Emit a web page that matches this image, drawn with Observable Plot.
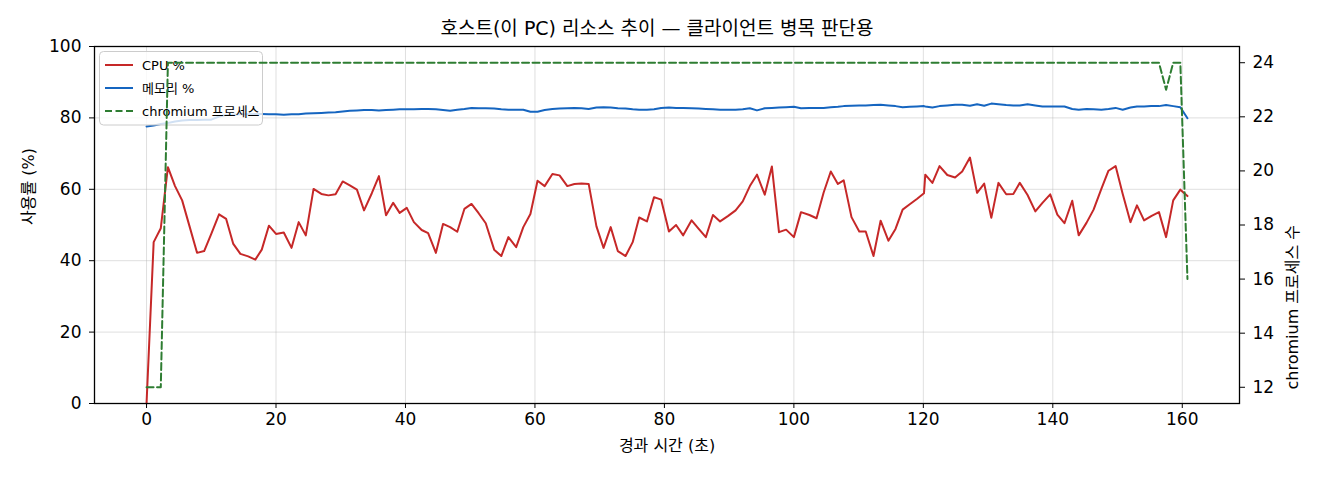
<!DOCTYPE html>
<html><head><meta charset="utf-8">
<script src="https://cdn.jsdelivr.net/npm/d3@7"></script>
<script src="https://cdn.jsdelivr.net/npm/@observablehq/plot@0.6"></script>
<style>
body{margin:0;background:#fff;}
#wrap{position:relative;width:1320px;height:480px;}
#title{position:absolute;left:0;width:1314px;top:18px;line-height:20px;text-align:center;font-size:19px;font-family:"DejaVu Sans","Noto Sans CJK KR",sans-serif;color:#000;}
#wrap svg{position:absolute;left:0;top:0;}
</style></head><body>
<div id="wrap"><div id="title">호스트(이 PC) 리소스 추이 — 클라이언트 병목 판단용</div></div>
<script>
// elapsed seconds of each sample
const t = [0.0,1.1,2.2,3.3,4.4,5.5,6.6,7.8,8.9,10.0,
11.2,12.3,13.4,14.5,15.7,16.8,17.8,18.9,20.0,21.2,
22.4,23.5,24.6,25.8,27.0,28.1,29.2,30.3,31.4,32.5,
33.6,34.8,35.9,37.0,38.1,39.1,40.2,41.3,42.5,43.5,
44.7,45.8,46.9,48.0,49.1,50.2,51.3,52.4,53.7,54.8,
55.9,57.1,58.2,59.3,60.4,61.5,62.7,63.8,65.0,66.1,
67.2,68.3,69.5,70.6,71.7,72.8,74.0,75.1,76.1,77.3,
78.4,79.5,80.7,81.8,82.9,84.2,85.3,86.4,87.5,88.6,
89.8,91.0,92.1,93.2,94.3,95.5,96.6,97.7,98.8,100.0,
101.1,102.4,103.5,104.6,105.7,106.8,107.7,108.9,110.1,111.1,
112.3,113.4,114.6,115.7,116.8,117.9,119.0,120.1,120.3,121.4,
122.5,123.7,124.9,126.0,127.2,128.3,129.4,130.5,131.6,132.8,
133.9,134.9,136.1,137.3,138.4,139.6,140.7,141.8,143.0,144.0,
145.2,146.3,147.5,148.6,149.7,150.8,152.0,153.0,154.1,155.2,
156.4,157.5,158.6,159.7,160.8];

const cpu = [0.0,45.2,49.1,66.2,60.9,56.9,49.9,42.2,42.7,47.5,
53.0,51.7,44.7,41.9,41.2,40.3,43.1,49.8,47.5,47.9,
43.6,50.8,47.1,60.1,58.7,58.3,58.6,62.2,61.1,59.9,
54.1,58.9,63.7,52.7,56.2,53.4,54.8,50.8,48.6,47.7,
42.2,50.3,49.4,48.1,54.5,55.9,53.3,50.5,43.1,41.3,
46.6,43.8,49.4,53.1,62.4,60.9,64.3,63.9,60.9,61.5,
61.6,61.5,49.6,43.6,49.4,42.7,41.3,45.2,52.1,51.0,
57.8,57.1,48.2,50.0,47.1,51.3,48.9,46.6,52.8,51.0,
52.5,54.1,56.6,60.9,64.1,58.5,66.4,48.0,48.7,46.6,
53.6,52.8,51.9,59.1,65.0,61.5,62.5,52.2,48.2,48.2,
41.3,51.2,45.6,48.9,54.3,55.8,57.3,58.9,64.1,61.8,
66.5,64.0,63.3,65.0,68.9,59.0,61.6,52.0,61.8,58.6,
58.7,61.8,58.4,53.8,56.2,58.6,52.9,50.5,56.8,47.1,
50.6,54.3,60.1,65.2,66.5,58.7,50.8,55.5,51.3,52.5,
53.6,46.6,56.9,59.9,58.1];

const mem = [77.6,77.9,78.3,78.6,79.0,79.3,79.4,79.4,79.5,79.5,
80.4,80.8,80.9,81.0,81.0,81.1,81.1,81.0,81.0,80.9,
81.0,81.0,81.2,81.3,81.4,81.5,81.6,81.8,82.0,82.1,
82.2,82.2,82.1,82.2,82.3,82.4,82.4,82.4,82.5,82.5,
82.4,82.2,82.0,82.3,82.5,82.8,82.7,82.7,82.6,82.4,
82.3,82.3,82.3,81.7,81.7,82.2,82.5,82.6,82.7,82.8,
82.7,82.5,82.9,83.0,82.9,82.7,82.6,82.4,82.3,82.3,
82.4,82.8,82.9,82.8,82.8,82.7,82.6,82.5,82.4,82.3,
82.3,82.3,82.4,82.7,82.1,82.7,82.8,82.9,83.0,83.1,
82.7,82.8,82.8,82.8,83.0,83.1,83.3,83.4,83.5,83.5,
83.6,83.7,83.5,83.3,83.0,83.1,83.2,83.3,83.2,82.9,
83.3,83.5,83.7,83.7,83.4,83.8,83.4,84.0,83.8,83.6,
83.5,83.5,83.8,83.5,83.2,83.2,83.2,83.2,82.5,82.3,
82.5,82.4,82.3,82.5,82.8,82.3,82.9,83.2,83.2,83.3,
83.3,83.6,83.3,83.0,79.9];

const chromium = [12,12,12,24,24,24,24,24,24,24,
24,24,24,24,24,24,24,24,24,24,
24,24,24,24,24,24,24,24,24,24,
24,24,24,24,24,24,24,24,24,24,
24,24,24,24,24,24,24,24,24,24,
24,24,24,24,24,24,24,24,24,24,
24,24,24,24,24,24,24,24,24,24,
24,24,24,24,24,24,24,24,24,24,
24,24,24,24,24,24,24,24,24,24,
24,24,24,24,24,24,24,24,24,24,
24,24,24,24,24,24,24,24,24,24,
24,24,24,24,24,24,24,24,24,24,
24,24,24,24,24,24,24,24,24,24,
24,24,24,24,24,24,24,24,24,24,
24,23,24,24,16];

const xTicks = [0,20,40,60,80,100,120,140,160];
const yTicks = [0,20,40,60,80,100];
const rightTicks = [12,14,16,18,20,22,24];
const seriesNames = ["CPU %","메모리 %","chromium 프로세스"];
const colors = ["#c62828","#1565c0","#2e7d32"];
const xLabel = "경과 시간 (초)";
const yLabel = "사용률 (%)";
const y2Label = "chromium 프로세스 수";

const xDomain = [-8.04, 168.84];
const y2Domain = [11.4, 24.6];
const toLeft = v => (v - y2Domain[0]) / (y2Domain[1] - y2Domain[0]) * 100;
const fromLeft = y => y2Domain[0] + y / 100 * (y2Domain[1] - y2Domain[0]);

const data = t.map((d, i) => ({t: d, cpu: cpu[i], mem: mem[i], chr: toLeft(chromium[i])}));

const FONT = '"DejaVu Sans","Noto Sans CJK KR",sans-serif';

// legend drawn between the left-axis lines and the right-axis line
function legendMark(index, scales, values, dims) {
  const g = d3.create("svg:g").attr("text-anchor", "start");
  const x0 = dims.marginLeft + 5.5, y0 = dims.marginTop + 5.5;
  g.append("rect").attr("x", x0).attr("y", y0).attr("width", 163).attr("height", 73.5)
    .attr("rx", 4).attr("fill", "#fff").attr("fill-opacity", 0.8)
    .attr("stroke", "#cccccc").attr("stroke-width", 1);
  seriesNames.forEach((name, i) => {
    const yy = y0 + 13.5 + i * 23;
    g.append("line").attr("x1", x0 + 5.5).attr("x2", x0 + 33.5).attr("y1", yy).attr("y2", yy)
      .attr("stroke", colors[i]).attr("stroke-width", 2)
      .attr("stroke-dasharray", i === 2 ? "7,3.5" : null);
    g.append("text").attr("x", x0 + 42.5).attr("y", yy).attr("dy", "0.35em")
      .attr("text-anchor", "start")
      .attr("font-size", 13).attr("font-family", FONT).attr("fill", "#000").text(name);
  });
  return g.node();
}

const chart = Plot.plot({
  width: 1320, height: 480,
  marginLeft: 94, marginRight: 81, marginTop: 46, marginBottom: 77,
  style: {fontFamily: FONT, background: "transparent", color: "#000"},
  x: {domain: xDomain},
  y: {domain: [0, 100]},
  marks: [
    Plot.gridX(xTicks, {stroke: "#b0b0b0", strokeOpacity: 0.4, strokeWidth: 1}),
    Plot.gridY(yTicks, {stroke: "#b0b0b0", strokeOpacity: 0.4, strokeWidth: 1}),
    Plot.line(data, {x: "t", y: "cpu", stroke: colors[0], strokeWidth: 2}),
    Plot.line(data, {x: "t", y: "mem", stroke: colors[1], strokeWidth: 2}),
    legendMark,
    Plot.line(data, {x: "t", y: "chr", stroke: colors[2], strokeWidth: 2, strokeDasharray: "7,3.5"}),
    Plot.axisX(xTicks, {tickSize: 5, tickPadding: 4, fontSize: 17, label: null}),
    Plot.axisY(yTicks, {anchor: "left", tickSize: 5, tickPadding: 8, fontSize: 17, label: null}),
    Plot.axisY(rightTicks.map(toLeft), {anchor: "right", tickSize: 5, tickPadding: 8, fontSize: 17,
      tickFormat: d => String(Math.round(fromLeft(d))), label: null}),
    Plot.text([xLabel], {frameAnchor: "bottom", dy: 47, text: d => d, fontSize: 16, fill: "#000"}),
    Plot.text([yLabel], {frameAnchor: "left", dx: -66, rotate: -90, text: d => d, fontSize: 16, fill: "#000"}),
    Plot.text([y2Label], {frameAnchor: "right", dx: 53, rotate: -90, text: d => d, fontSize: 16, fill: "#000"}),
    Plot.frame({stroke: "#000", strokeWidth: 1.3})
  ]
});
document.getElementById("wrap").appendChild(chart);
</script>
</body></html>
